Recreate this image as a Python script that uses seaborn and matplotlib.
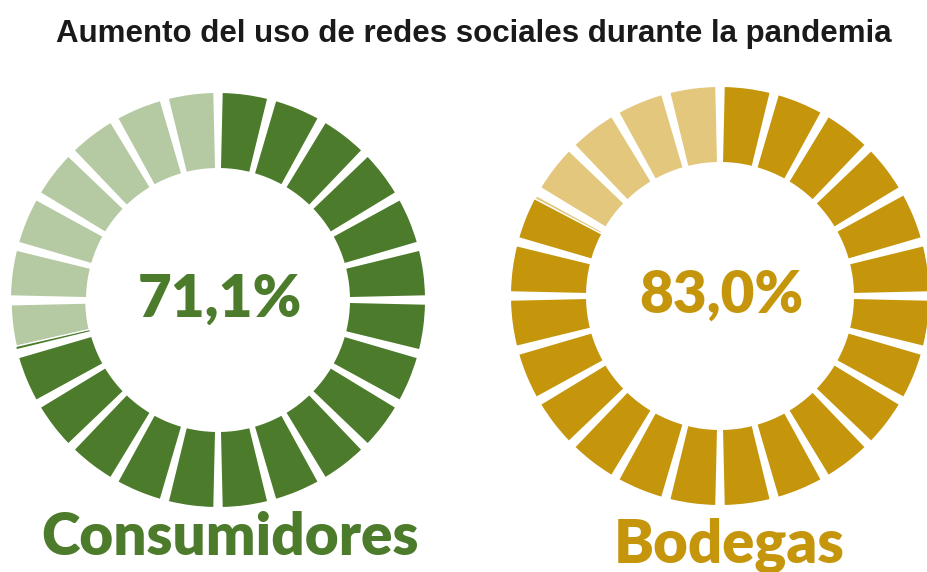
import numpy as np
import matplotlib
matplotlib.use("Agg")
import matplotlib.pyplot as plt
import seaborn as sns

# ---- data ----
title = "Aumento del uso de redes sociales durante la pandemia"
categories = ["Consumidores", "Bodegas"]
values = [71.1, 83.0]
value_labels = ["71,1%", "83,0%"]
n_segments = 24

# ---- style ----
sns.set_theme(style="white")
plt.rcParams["font.family"] = ["Liberation Sans", "DejaVu Sans"]

dark_colors = ["#4b7b2b", "#c5960c"]
light_colors = ["#b5c9a3", "#e2c77c"]
centers = [(218, 272), (720, 276)]
outer_r = [207, 209]
ring_w = 75
gap_frac = 2.6 / 15.0   # share of each segment left blank

W, H, DPI = 928, 572, 100
fig = plt.figure(figsize=(W / DPI, H / DPI), dpi=DPI)
ax = fig.add_axes([0, 0, 1, 1])

px2pt = 72 / DPI

for i, v in enumerate(values):
    filled = v / 100 * n_segments
    sizes, cols, split = [], [], []
    for k in range(n_segments):
        f = min(max(filled - k, 0.0), 1.0)
        body = 1 - gap_frac
        sizes.append(gap_frac / 2); cols.append("none"); split.append(False)
        if f > 0:
            sizes.append(f * body); cols.append(dark_colors[i]); split.append(False)
        if f < 1:
            sizes.append((1 - f) * body); cols.append(light_colors[i])
            split.append(0 < f < 1)
        sizes.append(gap_frac / 2); cols.append("none"); split.append(False)
    wedges, _ = ax.pie(sizes, colors=cols, startangle=90, counterclock=False,
                       radius=outer_r[i], center=centers[i],
                       wedgeprops=dict(width=ring_w, linewidth=0))
    for w, s in zip(wedges, split):
        if s:
            w.set_edgecolor("white")
            w.set_linewidth(1.5 * px2pt)

ax.set_xlim(0, W)
ax.set_ylim(0, H)
ax.set_aspect("equal")
ax.axis("off")

ax.text(474, H - 42, title, ha="center", va="baseline", fontsize=22.5,
        fontweight="bold", color="#1a1a1a")

label_pos = [(220, H - 317), (721, H - 313)]
for i, lab in enumerate(value_labels):
    ax.text(label_pos[i][0], label_pos[i][1], lab, ha="center", va="baseline",
            fontsize=42, fontweight="heavy", color=dark_colors[i],
            family=["Lato", "DejaVu Sans"])

cat_pos = [(230, H - 555), (729, H - 562)]
cat_size = [42, 43]
for i, c in enumerate(categories):
    ax.text(cat_pos[i][0], cat_pos[i][1], c, ha="center", va="baseline",
            fontsize=cat_size[i], fontweight="heavy", color=dark_colors[i],
            family=["Lato", "DejaVu Sans"])

fig.savefig("out.png", dpi=DPI, facecolor="white")
